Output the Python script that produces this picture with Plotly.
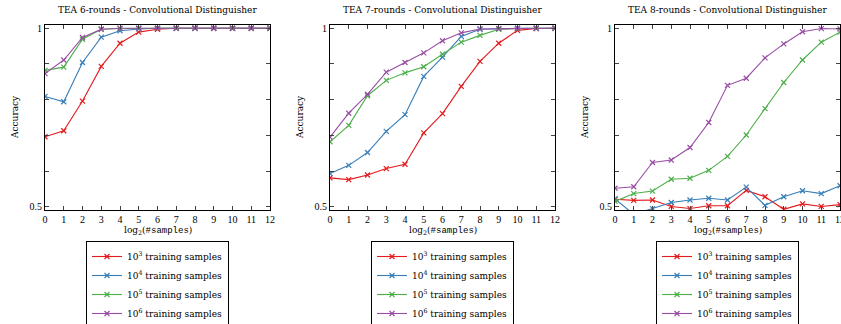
import plotly.graph_objects as go

x_vals = list(range(13))
series_names = ["10<sup>3</sup> training samples", "10<sup>4</sup> training samples",
                "10<sup>5</sup> training samples", "10<sup>6</sup> training samples"]
colors = ["#E41A1C", "#377EB8", "#4DAF4A", "#984EA3"]
titles = ["TEA 6-rounds - Convolutional Distinguisher",
          "TEA 7-rounds - Convolutional Distinguisher",
          "TEA 8-rounds - Convolutional Distinguisher"]
y_tickvals = [0.5, 1.0]
y_ticktext = ["0.5", "1"]

r6_1e3 = [0.696, 0.713, 0.796, 0.893, 0.958, 0.989, 0.997, 1.0, 1.0, 1.0, 1.0, 1.0, 1.0]
r6_1e4 = [0.809, 0.794, 0.904, 0.975, 0.993, 0.998, 1.0, 1.0, 1.0, 1.0, 1.0, 1.0, 1.0]
r6_1e5 = [0.882, 0.891, 0.969, 0.997, 0.999, 1.0, 1.0, 1.0, 1.0, 1.0, 1.0, 1.0, 1.0]
r6_1e6 = [0.873, 0.911, 0.974, 0.997, 1.0, 1.0, 1.0, 1.0, 1.0, 1.0, 1.0, 1.0, 1.0]

r7_1e3 = [0.581, 0.576, 0.589, 0.607, 0.619, 0.707, 0.761, 0.837, 0.907, 0.958, 0.994, 0.999, 1.0]
r7_1e4 = [0.593, 0.616, 0.652, 0.711, 0.758, 0.865, 0.919, 0.977, 0.997, 0.999, 1.0, 1.0, 1.0]
r7_1e5 = [0.682, 0.728, 0.811, 0.854, 0.875, 0.892, 0.927, 0.961, 0.980, 0.997, 0.999, 1.0, 1.0]
r7_1e6 = [0.695, 0.762, 0.815, 0.877, 0.904, 0.931, 0.965, 0.987, 0.998, 0.999, 1.0, 1.0, 1.0]

r8_1e3 = [0.521, 0.518, 0.519, 0.501, 0.495, 0.503, 0.503, 0.546, 0.528, 0.493, 0.508, 0.501, 0.506]
r8_1e4 = [0.522, 0.479, 0.495, 0.512, 0.519, 0.524, 0.519, 0.555, 0.504, 0.528, 0.545, 0.537, 0.559]
r8_1e5 = [0.515, 0.537, 0.544, 0.577, 0.580, 0.602, 0.641, 0.701, 0.775, 0.848, 0.911, 0.961, 0.989]
r8_1e6 = [0.552, 0.556, 0.624, 0.631, 0.666, 0.736, 0.840, 0.860, 0.917, 0.956, 0.990, 0.999, 0.998]

panels = [[r6_1e3, r6_1e4, r6_1e5, r6_1e6],
          [r7_1e3, r7_1e4, r7_1e5, r7_1e6],
          [r8_1e3, r8_1e4, r8_1e5, r8_1e6]]

W, H = 841, 324
TICKFONT = "Liberation Serif, serif"
TEXTFONT = "DejaVu Serif, serif"
MONO = "Liberation Mono, DejaVu Sans Mono, monospace"
domains_px = [(45, 270), (330, 555), (615, 840)]
y_top, y_bot = 25, 210

fig = go.Figure()
legend_names = ["legend", "legend2", "legend3"]
for p, series in enumerate(panels):
    xa = "x" if p == 0 else f"x{p+1}"
    ya = "y" if p == 0 else f"y{p+1}"
    for s, vals in enumerate(series):
        fig.add_trace(go.Scatter(
            x=x_vals, y=vals, mode="lines+markers", name=series_names[s],
            xaxis=xa, yaxis=ya, legend=legend_names[p],
            line=dict(color=colors[s], width=1.1),
            marker=dict(symbol="x-thin", size=5, line=dict(color=colors[s], width=1.2)),
            cliponaxis=True,
        ))

layout = dict(
    width=W, height=H, margin=dict(l=0, r=0, t=0, b=0, autoexpand=False),
    paper_bgcolor="white", plot_bgcolor="white",
    font=dict(family=TEXTFONT, size=9, color="black"),
    showlegend=True,
)
annotations = []
for p, (x0, x1) in enumerate(domains_px):
    key = "" if p == 0 else str(p + 1)
    layout["xaxis" + key] = dict(
        domain=[x0 / W, x1 / W], range=[0, 12], tickvals=x_vals,
        ticks="inside", ticklen=4, tickcolor="#444", showline=True, linecolor="black",
        linewidth=1, mirror="ticks", showgrid=False, zeroline=False,
        ticklabeloverflow="allow",
        anchor="y" + key, tickfont=dict(size=10, family=TICKFONT),
    )
    layout["yaxis" + key] = dict(
        domain=[1 - y_bot / H, 1 - y_top / H], range=[0.491, 1.009],
        tickvals=y_tickvals, ticktext=y_ticktext,
        minor=dict(dtick=0.1, tick0=0.5, ticks="inside", ticklen=4, tickcolor="#444", showgrid=False),
        ticks="inside", ticklen=4, tickcolor="#444", showline=True, linecolor="black",
        linewidth=1, mirror="ticks", showgrid=False, zeroline=False,
        anchor="x" + key, tickfont=dict(size=10, family=TICKFONT),
    )
    cx = (x0 + x1) / 2 / W
    annotations.append(dict(text=titles[p], x=cx, y=1 - 10 / H, xref="paper", yref="paper",
                            showarrow=False, xanchor="center", yanchor="middle",
                            font=dict(size=9, family=TEXTFONT)))
    annotations.append(dict(text="Accuracy", x=(x0 - 30) / W, y=1 - 117 / H, xref="paper",
                            yref="paper", showarrow=False, textangle=-90,
                            xanchor="center", yanchor="middle", font=dict(size=9, family=TEXTFONT)))
    annotations.append(dict(
        text=f"log<sub>2</sub>(<span style='font-family:{MONO}'>#samples</span>)",
        x=cx, y=1 - 231 / H, xref="paper", yref="paper", showarrow=False,
        xanchor="center", yanchor="middle", font=dict(size=9, family=TEXTFONT)))
    layout[legend_names[p]] = dict(
        x=cx, y=1 - 241 / H, xanchor="center", yanchor="top",
        bordercolor="black", borderwidth=1, bgcolor="white",
        font=dict(size=9, family=TEXTFONT), itemwidth=30, tracegroupgap=0,
    )
layout["annotations"] = annotations
fig.update_layout(**layout)
fig.write_html("out.html")
